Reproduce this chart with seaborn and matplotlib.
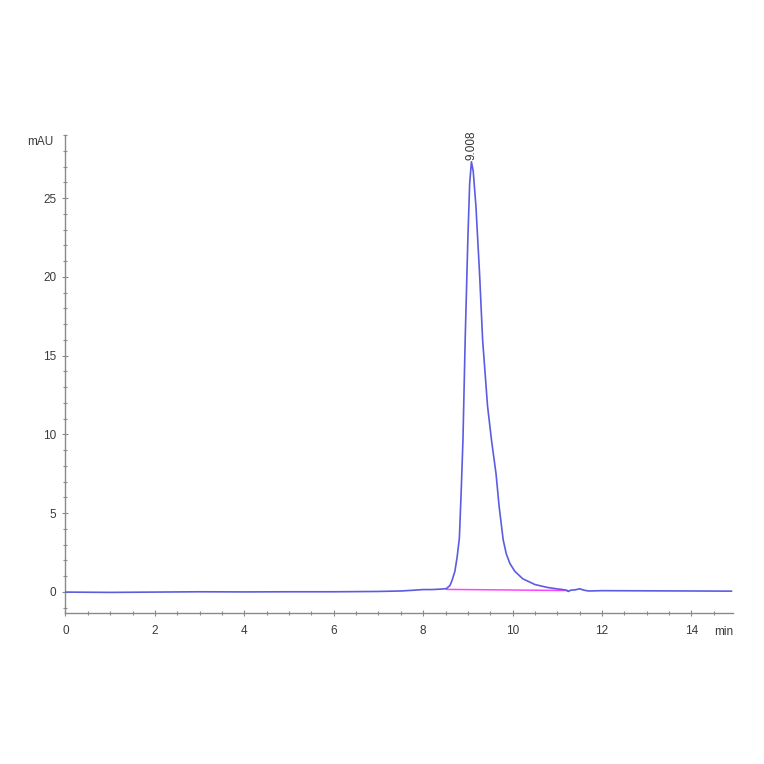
import matplotlib
matplotlib.use("Agg")
import matplotlib.pyplot as plt
from matplotlib.ticker import MultipleLocator
import seaborn as sns
import pandas as pd

# chromatogram signal (time in min, absorbance in mAU)
time_min = [0.0, 0.5, 1.0, 1.5, 2.0, 2.5, 3.0, 4.0, 5.0, 6.0, 7.0, 7.5, 7.8, 8.0,
            8.2, 8.4, 8.52, 8.6, 8.65, 8.71, 8.76, 8.81, 8.85, 8.89, 8.94, 9.0,
            9.04, 9.08, 9.12, 9.18, 9.26, 9.33, 9.44, 9.53, 9.63, 9.70, 9.79,
            9.86, 9.94, 10.05, 10.23, 10.5, 10.77, 11.0, 11.1, 11.2, 11.25,
            11.3, 11.4, 11.5, 11.6, 11.7, 12.0, 13.0, 14.0, 14.9]
signal_mau = [-0.02, -0.03, -0.04, -0.03, -0.02, -0.01, 0.0, -0.01, 0.0, 0.0,
              0.02, 0.05, 0.10, 0.14, 0.14, 0.17, 0.20, 0.40, 0.75, 1.3, 2.2,
              3.4, 6.3, 9.6, 16.0, 22.4, 25.9, 27.3, 26.7, 24.5, 20.3, 16.0,
              11.8, 9.6, 7.5, 5.4, 3.3, 2.4, 1.8, 1.3, 0.82, 0.46, 0.28, 0.18,
              0.15, 0.10, 0.02, 0.10, 0.12, 0.19, 0.10, 0.05, 0.07, 0.06, 0.05,
              0.04]

# integration baseline
base_time = [8.52, 11.24]
base_mau = [0.15, 0.08]

peak_time = 9.08
peak_height = 27.3
peak_label = "9.008"

sns.set_style("white")
plt.rcParams["font.family"] = ["Liberation Sans", "DejaVu Sans"]

fig = plt.figure(figsize=(7.64, 7.64), dpi=100)
ax = fig.add_axes([0.0857, 0.1976, 0.9594 - 0.0857, 0.8233 - 0.1976])

df = pd.DataFrame({"t": time_min, "s": signal_mau})
dfb = pd.DataFrame({"t": base_time, "s": base_mau})
sns.lineplot(data=dfb, x="t", y="s", ax=ax, color="#ff44ff", lw=1.1, zorder=2)
sns.lineplot(data=df, x="t", y="s", ax=ax, color="#5c5ce2", lw=1.2, sort=False, zorder=3)

ax.text(peak_time, peak_height + 0.1, peak_label, rotation=90, ha="center",
        va="bottom", fontsize=8.5, color="#333333")

ax.set_xlim(0, 14.93)
ax.set_ylim(-1.35, 29.0)
ax.xaxis.set_major_locator(MultipleLocator(2))
ax.xaxis.set_minor_locator(MultipleLocator(0.5))
ax.yaxis.set_major_locator(MultipleLocator(5))
ax.yaxis.set_minor_locator(MultipleLocator(1))
ax.set_xlabel("")
ax.set_ylabel("")

sns.despine(ax=ax)
for sp in ("left", "bottom"):
    ax.spines[sp].set_color("#8a8a8a")
    ax.spines[sp].set_linewidth(1.0)
ax.tick_params(which="major", direction="inout", length=5, width=0.8,
               color="#8a8a8a", labelsize=8.5, labelcolor="#3a3a3a")
ax.tick_params(which="minor", direction="inout", length=3, width=0.8,
               color="#8a8a8a")
ax.tick_params(axis="x", which="both", bottom=True, pad=6)
ax.tick_params(axis="y", which="both", left=True, pad=4)

ax.annotate("mAU", xy=(0, 1), xycoords="axes fraction", xytext=(-9, -5),
            textcoords="offset points", ha="right", va="center",
            fontsize=8.5, color="#3a3a3a")
ax.annotate("min", xy=(1, 0), xycoords="axes fraction", xytext=(0, -9),
            textcoords="offset points", ha="right", va="top",
            fontsize=8.5, color="#3a3a3a")

fig.savefig("out.png", dpi=100, facecolor="white")
